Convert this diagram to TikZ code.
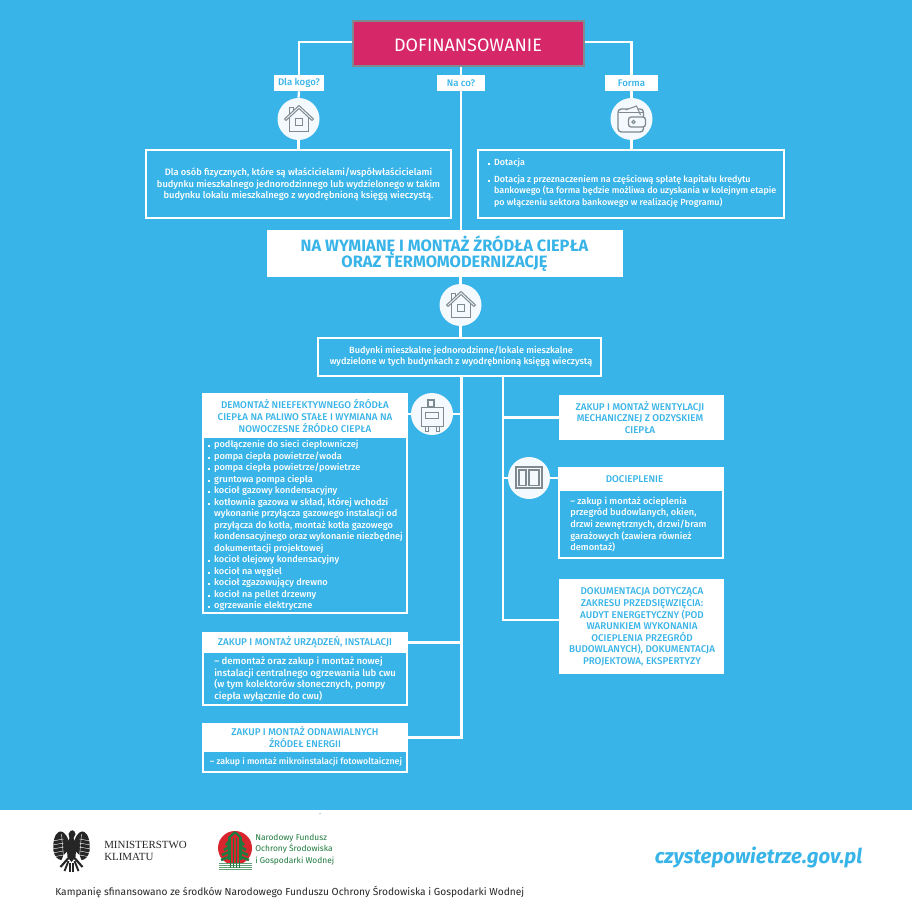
\documentclass[tikz,border=0pt]{standalone}
\usepackage{fontspec}
\setmainfont{Fira Sans Medium}[BoldFont=Fira Sans Bold]
\newfontfamily\regf{Fira Sans}
\newfontfamily\serf{Liberation Serif}
\usetikzlibrary{fit}
\definecolor{sky}{HTML}{38B4E8}
\definecolor{pinkc}{HTML}{D62768}
\definecolor{iconc}{HTML}{7F8A90}
\definecolor{discc}{HTML}{F3F9FC}
\definecolor{ngreen}{HTML}{1E7A3E}
\definecolor{nred}{HTML}{D9252E}
\newcommand{\bl}{\makebox[4.4pt][l]{\raisebox{0.3pt}{\rule{1.5pt}{1.5pt}}}}
\newcommand{\cn}{\hspace*{4.4pt}}
\tikzset{
  wire/.style={draw=white,line width=1.7pt},
  filled/.style={fill=white,draw=none,inner sep=0pt},
  outline/.style={draw=white,line width=1.7pt,inner sep=0pt,fill=sky},
  inner panel/.style={fill=sky,draw=none,inner sep=0pt},
  disc/.style={circle,fill=discc,draw=none,minimum size=31.5pt,inner sep=0pt},
  body text/.style={inner sep=0pt,text=white,font=\fontsize{7.0}{8.8}\selectfont,align=center},
  list text/.style={body text,align=left},
  head text/.style={inner sep=0pt,text=sky,font=\fontsize{7.35}{8.7}\selectfont,align=center},
  ask text/.style={inner sep=0pt,text=sky,font=\fontsize{7.2}{8}\selectfont},
  ico/.style={draw=iconc,line width=0.75pt,line join=miter},
  icob/.style={draw=iconc,line width=1.5pt},
  foot/.style={inner sep=0pt,anchor=west}
}
\begin{document}
\begin{tikzpicture}[x=0.75pt,y=-0.75pt]
\useasboundingbox (0,0) rectangle (912,912);
\fill[sky] (0,0) rectangle (912,810);
\fill[white] (0,810) rectangle (912,912);
\fill[teal] (320,813.5) circle (0.5);

% title
\node[fit={(353,21)(584,66)},fill=pinkc,draw=iconc,line width=1pt,inner sep=0pt] (fund) {};
\node[inner sep=0pt,text=white,font=\regf\fontsize{13.5}{15}\selectfont] at (468,45.5) (fundt) {DOFINANSOWANIE};

% question labels
\node[filled,fit={(274,75)(324,91)}] (kogo) {};
\node[filled,fit={(437,75)(485,91)}] (naco) {};
\node[filled,fit={(605,75)(658,91)}] (forma) {};
\node[ask text] at (kogo.center) (kogot) {Dla kogo?};
\node[ask text] at (naco.center) (nacot) {Na co?};
\node[ask text] at (forma.center) (format) {Forma};

% discs
\node[disc] at (298.5,119) (d1) {};
\node[disc] at (631.5,119) (d2) {};
\node[disc] at (460.5,305) (d3) {};
\node[disc] at (432,414) (d4) {};
\node[disc] at (529,478) (d5) {};

% upper panels
\node[outline,fit={(146,150)(451,218)}] (who) {};
\node[body text] at (298.5,184.5) (whot) {Dla osób fizycznych, które są właścicielami/współwłaścicielami\\budynku mieszkalnego jednorodzinnego lub wydzielonego w takim\\budynku lokalu mieszkalnego z wyodrębnioną księgą wieczystą.};
\node[outline,fit={(478,150)(784,218)}] (form) {};
\node[list text,anchor=west,font=\fontsize{6.7}{8.8}\selectfont] at (488,183) (formt) {\bl Dotacja\\[3.9pt]\bl Dotacja z przeznaczeniem na częściową spłatę kapitału kredytu\\\cn bankowego (ta forma będzie możliwa do uzyskania w kolejnym etapie\\\cn po włączeniu sektora bankowego w realizację Programu)};

% big title
\node[filled,fit={(267,230)(623,277)}] (big) {};
\node[inner sep=0pt,text=sky,align=center,font=\bfseries\fontsize{12.3}{12.2}\selectfont] at (444.5,254) (bigt) {NA WYMIANĘ I MONTAŻ ŹRÓDŁA CIEPŁA\\ORAZ TERMOMODERNIZACJĘ};

% building panel
\node[outline,fit={(318,338)(601,376)}] (bld) {};
\node[body text,font=\fontsize{6.85}{8.8}\selectfont] at (461,356.5) (bldt) {Budynki mieszkalne jednorodzinne/lokale mieszkalne\\wydzielone w tych budynkach z wyodrębnioną księgą wieczystą};

% left column
\node[filled,fit={(202,393)(408,614)}] (a) {};
\node[inner panel,fit={(204,438)(406,612)}] (ab) {};
\node[filled,fit={(202,393)(408,438)}] (ah) {};
\node[head text] at (305,416) (aht) {DEMONTAŻ NIEEFEKTYWNEGO ŹRÓDŁA\\CIEPŁA NA PALIWO STAŁE I WYMIANA NA\\NOWOCZESNE ŹRÓDŁO CIEPŁA};
\node[list text,anchor=west,font=\fontsize{6.9}{8.63}\selectfont] at (208,525.5) (abt) {\bl podłączenie do sieci ciepłowniczej\\\bl pompa ciepła powietrze/woda\\\bl pompa ciepła powietrze/powietrze\\\bl gruntowa pompa ciepła\\\bl kocioł gazowy kondensacyjny\\\bl kotłownia gazowa w skład, której wchodzi\\\cn wykonanie przyłącza gazowego instalacji od\\\cn przyłącza do kotła, montaż kotła gazowego\\\cn kondensacyjnego oraz wykonanie niezbędnej\\\cn dokumentacji projektowej\\\bl kocioł olejowy kondensacyjny\\\bl kocioł na węgiel\\\bl kocioł zgazowujący drewno\\\bl kocioł na pellet drzewny\\\bl ogrzewanie elektryczne};

\node[filled,fit={(202,632)(408,706)}] (b) {};
\node[inner panel,fit={(204,653)(406,704)}] (bb) {};
\node[filled,fit={(202,632)(408,653)}] (bh) {};
\node[head text] at (305,642.5) (bht) {ZAKUP I MONTAŻ URZĄDZEŃ, INSTALACJI};
\node[list text,anchor=west,font=\fontsize{7.2}{8.8}\selectfont] at (214,679.5) (bbt) {– demontaż oraz zakup i montaż nowej\\instalacji centralnego ogrzewania lub cwu\\(w tym kolektorów słonecznych, pompy\\ciepła wyłącznie do cwu)};

\node[filled,fit={(202,723)(408,773)}] (c) {};
\node[inner panel,fit={(204,752)(406,771)}] (cb) {};
\node[filled,fit={(202,723)(408,752)}] (ch) {};
\node[head text,font=\fontsize{7.35}{9}\selectfont] at (305,737.5) (cht) {ZAKUP I MONTAŻ ODNAWIALNYCH\\ŹRÓDEŁ ENERGII};
\node[list text,anchor=west,font=\fontsize{6.6}{8.8}\selectfont] at (209.5,761.5) (cbt) {– zakup i montaż mikroinstalacji fotowoltaicznej};

% right column
\node[filled,fit={(559,395)(724,440)}] (e) {};
\node[head text] at (640,417.5) (et) {ZAKUP I MONTAŻ WENTYLACJI\\MECHANICZNEJ Z ODZYSKIEM\\CIEPŁA};

\node[filled,fit={(558,467)(724,559)}] (f) {};
\node[inner panel,fit={(560,491)(722,557)}] (fb) {};
\node[filled,fit={(558,467)(724,491)}] (fh) {};
\node[head text] at (634.5,479.5) (fht) {DOCIEPLENIE};
\node[list text,anchor=west,font=\fontsize{6.95}{8.8}\selectfont] at (570,524.5) (fbt) {– zakup i montaż ocieplenia\\przegród budowlanych, okien,\\drzwi zewnętrznych, drzwi/bram\\garażowych (zawiera również\\demontaż)};

\node[filled,fit={(559,579)(724,674)}] (g) {};
\node[head text] at (642,627) (gt) {DOKUMENTACJA DOTYCZĄCA\\ZAKRESU PRZEDSIĘWZIĘCIA:\\AUDYT ENERGETYCZNY (POD\\WARUNKIEM WYKONANIA\\OCIEPLENIA PRZEGRÓD\\BUDOWLANYCH), DOKUMENTACJA\\PROJEKTOWA, EKSPERTYZY};

% connectors
\coordinate (trunkL) at (461.5,377);
\coordinate (trunkR) at (503,377);
\draw[wire] ([yshift=1.3pt]fund.west) -| (kogo.north);
\draw[wire] ([yshift=1.3pt]fund.east) -| (forma.north);
\draw[wire] (naco.north |- fund.south) -- (naco.north);
\draw[wire] (kogo.south) -- (d1.north);
\draw[wire] (d1.south) -- (d1.south |- who.north);
\draw[wire] (forma.south) -- (d2.north);
\draw[wire] (d2.south) -- (d2.south |- form.north);
\draw[wire] (naco.south) -- (naco.south |- big.north);
\draw[wire] (d3.north |- big.south) -- (d3.north);
\draw[wire] (d3.south) -- (d3.south |- bld.north);
\draw[wire] (trunkL) |- (ch.east);
\draw[wire] (bh.east) -- (trunkL |- bh.east);
\draw[wire] (d4.east) -- (trunkL |- d4.east);
\draw[wire] (d4.west) -- (ah.east |- d4.west);
\draw[wire] (trunkR) |- ([yshift=4.9pt]g.west);
\draw[wire] (e.west) -- (trunkR |- e.west);
\draw[wire] (d5.west) -- (trunkR |- d5.west);
\draw[wire] (d5.east) -- (fh.west |- d5.east);

% house icons
\foreach \cx/\cy in {298.5/119,460.5/305}{
\begin{scope}[shift={(\cx,\cy)}]
  \draw[ico] (-9,-1.5) -- (-9,12.5) -- (9.5,12.5) -- (9.5,-1.5);
  \draw[ico] (-3.5,0) rectangle (3.5,7);
  \draw[ico] (-14,0) -- (0.5,-13.5) -- (15,0) -- (13.5,1.5) -- (0.5,-10.5) -- (-12.5,1.5) -- cycle;
  \draw[ico] (-9,-5) -- (-9,-11) -- (-5.5,-11) -- (-5.5,-8);
\end{scope}}
% wallet icon
\begin{scope}[shift={(631.5,119)}]
  \draw[ico,line width=1pt,rounded corners=2.5pt] (-13.5,-10) rectangle (12,13);
  \draw[ico,fill=discc] (-6,-9) -- (5,-13) -- (9,-4);
  \draw[ico] (-13,-6) -- (12,-6);
  \draw[ico,line width=1pt,fill=discc,rounded corners=2pt] (-3,-2) rectangle (14,8);
  \draw[ico] (2,3) circle (1.6);
\end{scope}
% boiler icon
\begin{scope}[shift={(432,414)}]
  \draw[icob] (-4,-14) rectangle (2,-7);
  \draw[ico] (-11,-7) rectangle (11,12);
  \draw[ico] (-7,-2) rectangle (6.5,4);
  \draw[ico] (-7,12) -- (-7,17) -- (-4,17) -- (-4,12);
  \draw[ico] (4,12) -- (4,17) -- (7,17) -- (7,12);
\end{scope}
% window icon
\begin{scope}[shift={(529,478)}]
  \draw[ico,line width=1.4pt] (-13,-11) rectangle (13,10);
  \draw[ico,line width=1.4pt] (-10,-8) rectangle (-3,7.5);
  \draw[ico,line width=1.4pt] (0,-8) rectangle (10,7.5);
\end{scope}

% footer: eagle
\begin{scope}[shift={(71.5,851)}]
  \fill[black!85] (-3,-17) .. controls (-1,-22) and (3,-22) .. (4,-17) -- (2,-13) -- (5,-7) -- (4,6) -- (0,11) -- (-4,6) -- (-5,-7) -- (-2,-13) -- cycle;
  \foreach \s in {1,-1}{
  \begin{scope}[xscale=\s]
    \fill[black!85] (3,-10) .. controls (5,-18) and (10,-21) .. (13,-19)
       .. controls (17,-17) and (19,-8) .. (18,0)
       .. controls (17,6) and (13,9) .. (10,9)
       -- (8,4) -- (4,0) -- cycle;
    \foreach \yy in {-12,-8,-4,0,4}{
      \draw[white,line width=0.3pt] (8,\yy) -- (19,\yy+2);
    }
    \draw[white,line width=0.3pt] (10,-17) -- (8,6);
    \draw[black!85,line width=1.6pt] (3,7) -- (11,16);
    \draw[black!85,line width=1.4pt] (3,10) -- (7,20);
    \draw[black!85,line width=1.3pt] (1.2,12) -- (1.2,21);
  \end{scope}}
\end{scope}
\node[foot,font=\serf\fontsize{8.2}{9}\selectfont,align=left,text=black!85] at (104,851) (mk) {MINISTERSTWO\\KLIMATU};

% footer: fund logo
\begin{scope}
  \fill[nred] (235,848) circle (17);
  \fill[white] (218,862.5) rectangle (252,871);
  \foreach \i in {0,1,2,3}{
    \draw[ngreen!70,line width=0.9pt] (218.5,{863.5+\i*2.1}) -- (251.5,{863.5+\i*2.1});
  }
  \foreach \i in {0,1,2,3}{
    \draw[ngreen,line width=1.2pt] ({230.5+\i*3},838) -- ({230.5+\i*3},868);
  }
  \foreach \s in {1,-1}{
  \begin{scope}[shift={(235,0)},xscale=\s]
    \foreach \yy/\w in {838/6,843/9,848/11,853/13,858/14}{
      \draw[ngreen,line width=1.9pt] (6,\yy-1) -- (\w,\yy+2);
    }
    \draw[ngreen,line width=1.7pt] (0,832) -- (6,838);
    \draw[ngreen,line width=1.7pt] (6,838) -- (6,860);
  \end{scope}}
\end{scope}
\node[foot,font=\regf\fontsize{6.3}{8.5}\selectfont,align=left,text=ngreen] at (255,849.5) (nf) {Narodowy Fundusz\\Ochrony Środowiska\\i Gospodarki Wodnej};

\node[foot,font=\regf\fontsize{7.65}{9}\selectfont,text=black!85] at (55,892) (camp) {Kampanię sfinansowano ze środków Narodowego Funduszu Ochrony Środowiska i Gospodarki Wodnej};
\node[inner sep=0pt,font=\bfseries\itshape\fontsize{15.3}{17}\selectfont,text=sky] at (758.5,858) (url) {czystepowietrze.gov.pl};
\end{tikzpicture}
\end{document}
